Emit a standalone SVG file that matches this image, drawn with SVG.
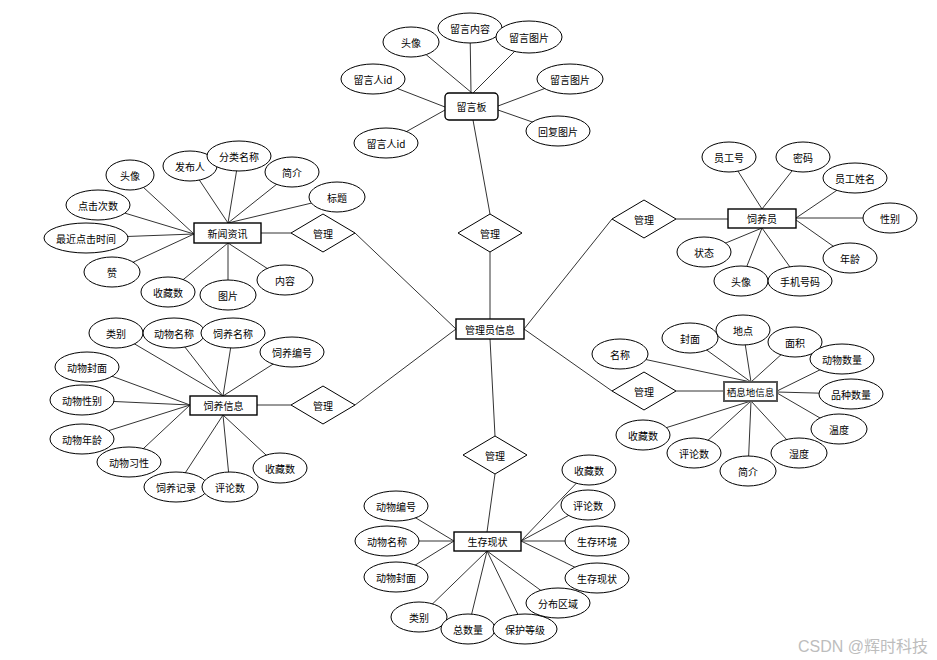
<svg xmlns="http://www.w3.org/2000/svg" width="937" height="660" viewBox="0 0 937 660">
<style>
.l{stroke:#333;stroke-width:1;fill:none}
.e{fill:#fff;stroke:#000;stroke-width:1}
.r{fill:#fff;stroke:#000;stroke-width:1.4}
.d{fill:#fff;stroke:#000;stroke-width:1}
text{font-family:"Noto Sans CJK SC","Liberation Sans",sans-serif;font-size:10px;fill:#000;text-anchor:middle;dominant-baseline:central}
.wm{font-family:"Liberation Sans","Noto Sans CJK SC",sans-serif;font-size:16px;fill:#bdbdbd;text-anchor:start}
</style>
<rect width="937" height="660" fill="#fff"/>
<g id="connectors">
<line class="l" x1="490" y1="319" x2="490" y2="252"/>
<line class="l" x1="490" y1="214" x2="473" y2="120"/>
<line class="l" x1="456" y1="329" x2="355" y2="233"/>
<line class="l" x1="261" y1="233" x2="291" y2="233"/>
<line class="l" x1="456" y1="329" x2="355" y2="405"/>
<line class="l" x1="257" y1="405" x2="291" y2="405"/>
<line class="l" x1="524" y1="329" x2="612" y2="219"/>
<line class="l" x1="676" y1="219" x2="728" y2="219"/>
<line class="l" x1="524" y1="329" x2="612" y2="391"/>
<line class="l" x1="676" y1="391" x2="724" y2="391"/>
<line class="l" x1="490" y1="339" x2="495" y2="436"/>
<line class="l" x1="495" y1="474" x2="487" y2="532"/>
<line class="l" x1="411" y1="42" x2="472" y2="93"/>
<line class="l" x1="470" y1="28" x2="471" y2="93"/>
<line class="l" x1="529" y1="37" x2="473" y2="93"/>
<line class="l" x1="373" y1="79" x2="445" y2="107"/>
<line class="l" x1="386" y1="143" x2="445" y2="110"/>
<line class="l" x1="570" y1="79" x2="498" y2="106"/>
<line class="l" x1="558" y1="131" x2="498" y2="110"/>
<line class="l" x1="130" y1="175" x2="194" y2="234"/>
<line class="l" x1="190" y1="166" x2="228" y2="223"/>
<line class="l" x1="239" y1="156" x2="228" y2="223"/>
<line class="l" x1="292" y1="172" x2="228" y2="223"/>
<line class="l" x1="337" y1="197" x2="228" y2="223"/>
<line class="l" x1="98" y1="205" x2="194" y2="234"/>
<line class="l" x1="86" y1="238" x2="194" y2="234"/>
<line class="l" x1="112" y1="272" x2="194" y2="234"/>
<line class="l" x1="168" y1="292" x2="228" y2="243"/>
<line class="l" x1="228" y1="295" x2="228" y2="243"/>
<line class="l" x1="285" y1="280" x2="228" y2="243"/>
<line class="l" x1="729" y1="157" x2="762" y2="209"/>
<line class="l" x1="803" y1="157" x2="762" y2="209"/>
<line class="l" x1="855" y1="178" x2="796" y2="218"/>
<line class="l" x1="890" y1="218" x2="796" y2="218"/>
<line class="l" x1="850" y1="258" x2="796" y2="220"/>
<line class="l" x1="800" y1="281" x2="762" y2="228"/>
<line class="l" x1="741" y1="281" x2="762" y2="228"/>
<line class="l" x1="704" y1="252" x2="762" y2="228"/>
<line class="l" x1="116" y1="333" x2="223" y2="396"/>
<line class="l" x1="174" y1="333" x2="223" y2="396"/>
<line class="l" x1="233" y1="333" x2="223" y2="396"/>
<line class="l" x1="292" y1="352" x2="223" y2="396"/>
<line class="l" x1="87" y1="367" x2="190" y2="405"/>
<line class="l" x1="82" y1="400" x2="190" y2="405"/>
<line class="l" x1="82" y1="439" x2="190" y2="405"/>
<line class="l" x1="129" y1="462" x2="190" y2="405"/>
<line class="l" x1="176" y1="487" x2="223" y2="415"/>
<line class="l" x1="230" y1="487" x2="223" y2="415"/>
<line class="l" x1="280" y1="468" x2="223" y2="415"/>
<line class="l" x1="620" y1="354" x2="751" y2="382"/>
<line class="l" x1="690" y1="338" x2="751" y2="382"/>
<line class="l" x1="743" y1="330" x2="751" y2="382"/>
<line class="l" x1="795" y1="342" x2="751" y2="382"/>
<line class="l" x1="842" y1="359" x2="777" y2="391"/>
<line class="l" x1="851" y1="394" x2="777" y2="392"/>
<line class="l" x1="839" y1="429" x2="777" y2="393"/>
<line class="l" x1="799" y1="453" x2="751" y2="401"/>
<line class="l" x1="748" y1="471" x2="751" y2="401"/>
<line class="l" x1="694" y1="453" x2="751" y2="401"/>
<line class="l" x1="643" y1="435" x2="751" y2="401"/>
<line class="l" x1="396" y1="506" x2="454" y2="541"/>
<line class="l" x1="387" y1="541" x2="454" y2="541"/>
<line class="l" x1="396" y1="577" x2="454" y2="541"/>
<line class="l" x1="589" y1="470" x2="521" y2="541"/>
<line class="l" x1="588" y1="505" x2="521" y2="541"/>
<line class="l" x1="597" y1="541" x2="521" y2="541"/>
<line class="l" x1="597" y1="578" x2="521" y2="541"/>
<line class="l" x1="558" y1="603" x2="487" y2="551"/>
<line class="l" x1="525" y1="629" x2="487" y2="551"/>
<line class="l" x1="468" y1="629" x2="487" y2="551"/>
<line class="l" x1="419" y1="617" x2="487" y2="551"/>
</g>

<g id="rel-top"><polygon class="d" points="458,233 490,214 522,233 490,252"/><text x="490" y="233">管理</text></g>
<g id="rel-news"><polygon class="d" points="291,233 323,214 355,233 323,252"/><text x="323" y="233">管理</text></g>
<g id="rel-feed"><polygon class="d" points="291,405 323,386 355,405 323,424"/><text x="323" y="405">管理</text></g>
<g id="rel-keeper"><polygon class="d" points="612,219 644,200 676,219 644,238"/><text x="644" y="219">管理</text></g>
<g id="rel-habitat"><polygon class="d" points="612,391 644,372 676,391 644,410"/><text x="644" y="391">管理</text></g>
<g id="rel-status"><polygon class="d" points="463,455 495,436 527,455 495,474"/><text x="495" y="455">管理</text></g>

<g id="admin"><rect class="r" x="456" y="319" width="68" height="20"/><text x="490" y="329">管理员信息</text></g>

<g id="board"><rect class="r" x="445" y="93" width="53" height="27" rx="4"/><text x="471.5" y="106.5">留言板</text></g>
<g id="board-a1"><ellipse class="e" cx="411" cy="42" rx="28" ry="15"/><text x="411" y="42">头像</text></g>
<g id="board-a2"><ellipse class="e" cx="470" cy="28" rx="32" ry="15"/><text x="470" y="28">留言内容</text></g>
<g id="board-a3"><ellipse class="e" cx="529" cy="37" rx="33" ry="16"/><text x="529" y="37">留言图片</text></g>
<g id="board-a4"><ellipse class="e" cx="373" cy="79" rx="32" ry="15"/><text x="373" y="79">留言人id</text></g>
<g id="board-a5"><ellipse class="e" cx="570" cy="79" rx="33" ry="15"/><text x="570" y="79">留言图片</text></g>
<g id="board-a6"><ellipse class="e" cx="558" cy="131" rx="32" ry="15"/><text x="558" y="131">回复图片</text></g>
<g id="board-a7"><ellipse class="e" cx="386" cy="143" rx="32" ry="15"/><text x="386" y="143">留言人id</text></g>

<g id="news"><rect class="r" x="194" y="223" width="67" height="20"/><text x="227.5" y="233">新闻资讯</text></g>
<g id="news-a1"><ellipse class="e" cx="130" cy="175" rx="24" ry="15"/><text x="130" y="175">头像</text></g>
<g id="news-a2"><ellipse class="e" cx="190" cy="166" rx="27" ry="15"/><text x="190" y="166">发布人</text></g>
<g id="news-a3"><ellipse class="e" cx="239" cy="156" rx="32" ry="15"/><text x="239" y="156">分类名称</text></g>
<g id="news-a4"><ellipse class="e" cx="292" cy="172" rx="27" ry="15"/><text x="292" y="172">简介</text></g>
<g id="news-a5"><ellipse class="e" cx="337" cy="197" rx="28" ry="15"/><text x="337" y="197">标题</text></g>
<g id="news-a6"><ellipse class="e" cx="98" cy="205" rx="32" ry="15"/><text x="98" y="205">点击次数</text></g>
<g id="news-a7"><ellipse class="e" cx="86" cy="238" rx="42" ry="15"/><text x="86" y="238">最近点击时间</text></g>
<g id="news-a8"><ellipse class="e" cx="112" cy="272" rx="28" ry="15"/><text x="112" y="272">赞</text></g>
<g id="news-a9"><ellipse class="e" cx="168" cy="292" rx="27" ry="15"/><text x="168" y="292">收藏数</text></g>
<g id="news-a10"><ellipse class="e" cx="228" cy="295" rx="28" ry="15"/><text x="228" y="295">图片</text></g>
<g id="news-a11"><ellipse class="e" cx="285" cy="280" rx="28" ry="15"/><text x="285" y="280">内容</text></g>

<g id="keeper"><rect class="r" x="728" y="209" width="68" height="19"/><text x="762" y="218.5">饲养员</text></g>
<g id="keeper-a1"><ellipse class="e" cx="729" cy="157" rx="27" ry="15"/><text x="729" y="157">员工号</text></g>
<g id="keeper-a2"><ellipse class="e" cx="803" cy="157" rx="27" ry="15"/><text x="803" y="157">密码</text></g>
<g id="keeper-a3"><ellipse class="e" cx="855" cy="178" rx="32" ry="15"/><text x="855" y="178">员工姓名</text></g>
<g id="keeper-a4"><ellipse class="e" cx="890" cy="218" rx="27" ry="15"/><text x="890" y="218">性别</text></g>
<g id="keeper-a5"><ellipse class="e" cx="850" cy="258" rx="27" ry="15"/><text x="850" y="258">年龄</text></g>
<g id="keeper-a6"><ellipse class="e" cx="741" cy="281" rx="27" ry="15"/><text x="741" y="281">头像</text></g>
<g id="keeper-a7"><ellipse class="e" cx="800" cy="281" rx="32" ry="15"/><text x="800" y="281">手机号码</text></g>
<g id="keeper-a8"><ellipse class="e" cx="704" cy="252" rx="27" ry="15"/><text x="704" y="252">状态</text></g>

<g id="feed"><rect class="r" x="190" y="396" width="67" height="19"/><text x="223.5" y="405.5">饲养信息</text></g>
<g id="feed-a1"><ellipse class="e" cx="116" cy="333" rx="27" ry="15"/><text x="116" y="333">类别</text></g>
<g id="feed-a2"><ellipse class="e" cx="174" cy="333" rx="31" ry="15"/><text x="174" y="333">动物名称</text></g>
<g id="feed-a3"><ellipse class="e" cx="233" cy="333" rx="32" ry="15"/><text x="233" y="333">饲养名称</text></g>
<g id="feed-a4"><ellipse class="e" cx="292" cy="352" rx="32" ry="15"/><text x="292" y="352">饲养编号</text></g>
<g id="feed-a5"><ellipse class="e" cx="87" cy="367" rx="32" ry="15"/><text x="87" y="367">动物封面</text></g>
<g id="feed-a6"><ellipse class="e" cx="82" cy="400" rx="32" ry="15"/><text x="82" y="400">动物性别</text></g>
<g id="feed-a7"><ellipse class="e" cx="82" cy="439" rx="32" ry="15"/><text x="82" y="439">动物年龄</text></g>
<g id="feed-a8"><ellipse class="e" cx="129" cy="462" rx="32" ry="15"/><text x="129" y="462">动物习性</text></g>
<g id="feed-a9"><ellipse class="e" cx="176" cy="487" rx="32" ry="15"/><text x="176" y="487">饲养记录</text></g>
<g id="feed-a10"><ellipse class="e" cx="230" cy="487" rx="28" ry="15"/><text x="230" y="487">评论数</text></g>
<g id="feed-a11"><ellipse class="e" cx="280" cy="468" rx="27" ry="15"/><text x="280" y="468">收藏数</text></g>

<g id="habitat"><rect fill="#fff" stroke="#555" stroke-width="2" x="724" y="382" width="53" height="19"/><text x="750.5" y="391.5" style="font-size:9.5px">栖息地信息</text></g>
<g id="habitat-a1"><ellipse class="e" cx="620" cy="354" rx="28" ry="15"/><text x="620" y="354">名称</text></g>
<g id="habitat-a2"><ellipse class="e" cx="690" cy="338" rx="28" ry="15"/><text x="690" y="338">封面</text></g>
<g id="habitat-a3"><ellipse class="e" cx="743" cy="330" rx="27" ry="15"/><text x="743" y="330">地点</text></g>
<g id="habitat-a4"><ellipse class="e" cx="795" cy="342" rx="27" ry="15"/><text x="795" y="342">面积</text></g>
<g id="habitat-a5"><ellipse class="e" cx="842" cy="359" rx="32" ry="15"/><text x="842" y="359">动物数量</text></g>
<g id="habitat-a6"><ellipse class="e" cx="851" cy="394" rx="32" ry="15"/><text x="851" y="394">品种数量</text></g>
<g id="habitat-a7"><ellipse class="e" cx="839" cy="429" rx="28" ry="15"/><text x="839" y="429">温度</text></g>
<g id="habitat-a8"><ellipse class="e" cx="799" cy="453" rx="28" ry="15"/><text x="799" y="453">湿度</text></g>
<g id="habitat-a9"><ellipse class="e" cx="748" cy="471" rx="28" ry="15"/><text x="748" y="471">简介</text></g>
<g id="habitat-a10"><ellipse class="e" cx="694" cy="453" rx="27" ry="15"/><text x="694" y="453">评论数</text></g>
<g id="habitat-a11"><ellipse class="e" cx="643" cy="435" rx="27" ry="15"/><text x="643" y="435">收藏数</text></g>

<g id="status"><rect class="r" x="454" y="532" width="67" height="19"/><text x="487.5" y="541.5">生存现状</text></g>
<g id="status-a1"><ellipse class="e" cx="396" cy="506" rx="32" ry="15"/><text x="396" y="506">动物编号</text></g>
<g id="status-a2"><ellipse class="e" cx="387" cy="541" rx="32" ry="15"/><text x="387" y="541">动物名称</text></g>
<g id="status-a3"><ellipse class="e" cx="396" cy="577" rx="32" ry="15"/><text x="396" y="577">动物封面</text></g>
<g id="status-a4"><ellipse class="e" cx="419" cy="617" rx="28" ry="15"/><text x="419" y="617">类别</text></g>
<g id="status-a5"><ellipse class="e" cx="468" cy="629" rx="27" ry="15"/><text x="468" y="629">总数量</text></g>
<g id="status-a6"><ellipse class="e" cx="525" cy="629" rx="32" ry="15"/><text x="525" y="629">保护等级</text></g>
<g id="status-a7"><ellipse class="e" cx="558" cy="603" rx="32" ry="15"/><text x="558" y="603">分布区域</text></g>
<g id="status-a8"><ellipse class="e" cx="597" cy="578" rx="32" ry="15"/><text x="597" y="578">生存现状</text></g>
<g id="status-a9"><ellipse class="e" cx="597" cy="541" rx="32" ry="15"/><text x="597" y="541">生存环境</text></g>
<g id="status-a10"><ellipse class="e" cx="588" cy="505" rx="27" ry="15"/><text x="588" y="505">评论数</text></g>
<g id="status-a11"><ellipse class="e" cx="589" cy="470" rx="27" ry="15"/><text x="589" y="470">收藏数</text></g>

<text class="wm" x="798" y="646">CSDN @辉时科技</text>
</svg>
